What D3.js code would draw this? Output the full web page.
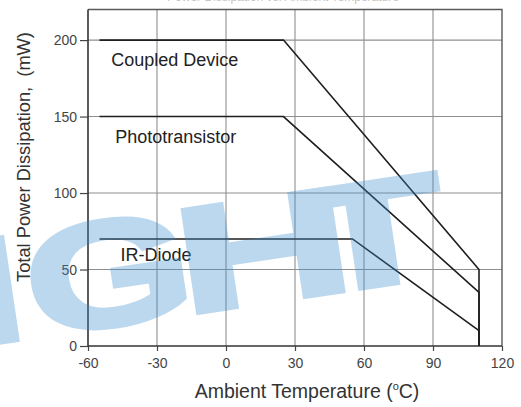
<!DOCTYPE html>
<html>
<head>
<meta charset="utf-8">
<script src="https://cdn.jsdelivr.net/npm/d3@7"></script>
<style>
  html, body { margin: 0; padding: 0; background: #fff; }
  svg { display: block; font-family: "Liberation Sans", Arial, sans-serif; }
</style>
</head>
<body>
<svg id="chart" width="521" height="407"></svg>
<script>
// Derating curves: total power dissipation vs ambient temperature
const seriesNames = ["Coupled Device", "Phototransistor", "IR-Diode"];
const coupledTemp  = [-55, 25, 110, 110];
const coupledPower = [200, 200, 50, 0];
const photoTemp    = [-55, 25, 110, 110];
const photoPower   = [150, 150, 35, 0];
const diodeTemp    = [-55, 55, 110, 110];
const diodePower   = [70, 70, 10, 0];
const xTicks = [-60, -30, 0, 30, 60, 90, 120];
const yTicks = [0, 50, 100, 150, 200];
const xDomain = [-60, 120];
const yDomain = [0, 220];

const series = [
  { name: seriesNames[0], temp: coupledTemp, power: coupledPower },
  { name: seriesNames[1], temp: photoTemp,   power: photoPower },
  { name: seriesNames[2], temp: diodeTemp,   power: diodePower }
];

// where each curve name sits, in data units (temperature, power)
const labelAnchor = {
  "Coupled Device":  [-49.9, 182.8],
  "Phototransistor": [-48.2, 132.5],
  "IR-Diode":        [-45.9, 55.5]
};

const svg = d3.select("#chart");
const plot = { left: 88, right: 502, top: 9.5, bottom: 346 };

const x = d3.scaleLinear().domain(xDomain).range([plot.left, plot.right]);
const y = d3.scaleLinear().domain(yDomain).range([plot.bottom, plot.top]);

// chart title, mostly running off the top edge
svg.append("text")
  .attr("x", 283).attr("y", 1)
  .attr("text-anchor", "middle")
  .attr("font-size", 12)
  .attr("fill", "#c4c4c4")
  .text("Power Dissipation vs. Ambient Temperature");

// grid
const grid = svg.append("g").attr("stroke", "#8f8f8f").attr("stroke-width", 1.1);
grid.selectAll("line.v").data(xTicks.slice(1, -1)).join("line")
  .attr("x1", d => x(d)).attr("x2", d => x(d))
  .attr("y1", plot.top).attr("y2", plot.bottom);
grid.selectAll("line.h").data(yTicks.slice(1)).join("line")
  .attr("y1", d => y(d)).attr("y2", d => y(d))
  .attr("x1", plot.left).attr("x2", plot.right);

// frame (top / right)
svg.append("path")
  .attr("d", `M${plot.left},${plot.top}H${plot.right}V${plot.bottom}`)
  .attr("fill", "none").attr("stroke", "#5a5a5a").attr("stroke-width", 1.4);

// axes
const fmt = d => String(d);
const xAxis = d3.axisBottom(x).tickValues(xTicks).tickFormat(fmt).tickSize(5).tickPadding(7);
const yAxis = d3.axisLeft(y).tickValues(yTicks).tickFormat(fmt).tickSize(8).tickPadding(3);

const gx = svg.append("g").attr("transform", `translate(0,${plot.bottom})`).call(xAxis);
const gy = svg.append("g").attr("transform", `translate(${plot.left},0)`).call(yAxis);
[gx, gy].forEach(g => {
  g.select(".domain").attr("stroke", "#333").attr("stroke-width", 1.6);
  g.selectAll(".tick line").attr("stroke", "#444").attr("stroke-width", 1.2);
  g.selectAll(".tick text")
    .attr("fill", "#444")
    .attr("font-size", 14)
    .attr("font-family", "Liberation Sans, Arial, sans-serif");
});
gy.select(".domain").attr("d", `M0,${plot.top}V${plot.bottom}`);
gx.select(".domain").attr("d", `M${plot.left},0H${plot.right}`);

// curves
const line = d3.line().x(d => x(d[0])).y(d => y(d[1]));
svg.append("g").selectAll("path").data(series).join("path")
  .attr("d", s => line(s.temp.map((t, i) => [t, s.power[i]])))
  .attr("fill", "none")
  .attr("stroke", "#1e1e1e")
  .attr("stroke-width", 1.6)
  .attr("stroke-linejoin", "miter");

// curve names
svg.append("g").selectAll("text").data(series).join("text")
  .attr("x", s => x(labelAnchor[s.name][0]))
  .attr("y", s => y(labelAnchor[s.name][1]))
  .attr("font-size", 18)
  .attr("fill", "#222")
  .text(s => s.name);

// axis titles
svg.append("text")
  .attr("transform", `translate(30,157) rotate(-90)`)
  .attr("text-anchor", "middle")
  .attr("font-size", 18.3)
  .attr("fill", "#333")
  .attr("xml:space", "preserve")
  .text("Total Power Dissipation,  (mW)");

const xt = svg.append("text")
  .attr("x", 307).attr("y", 398)
  .attr("text-anchor", "middle")
  .attr("font-size", 19.5)
  .attr("fill", "#333");
xt.append("tspan").text("Ambient Temperature (");
xt.append("tspan").attr("font-size", 11).attr("dy", -8).text("o");
xt.append("tspan").attr("dy", 8).text("C)");

// watermark lettering, laid along a slanted baseline
const mark = svg.append("g")
  .attr("opacity", 0.34)
  .attr("transform", "translate(0,342) rotate(-8.5)");
const markLetters = [
  { ch: "I", u: -35, sx: 1.6 },
  { ch: "G", u: 34,  sx: 1.43 },
  { ch: "H", u: 186, sx: 1.62 },
  { ch: "T", u: 310, sx: 1.6 }
];
mark.selectAll("text").data(markLetters).join("text")
  .attr("transform", d => `translate(${d.u},0) scale(${d.sx},1)`)
  .attr("font-size", 150)
  .attr("font-weight", "bold")
  .attr("fill", "#3d8fd1")
  .attr("stroke", "#3d8fd1")
  .attr("stroke-width", 5)
  .attr("stroke-linejoin", "miter")
  .text(d => d.ch);
</script>
</body>
</html>
